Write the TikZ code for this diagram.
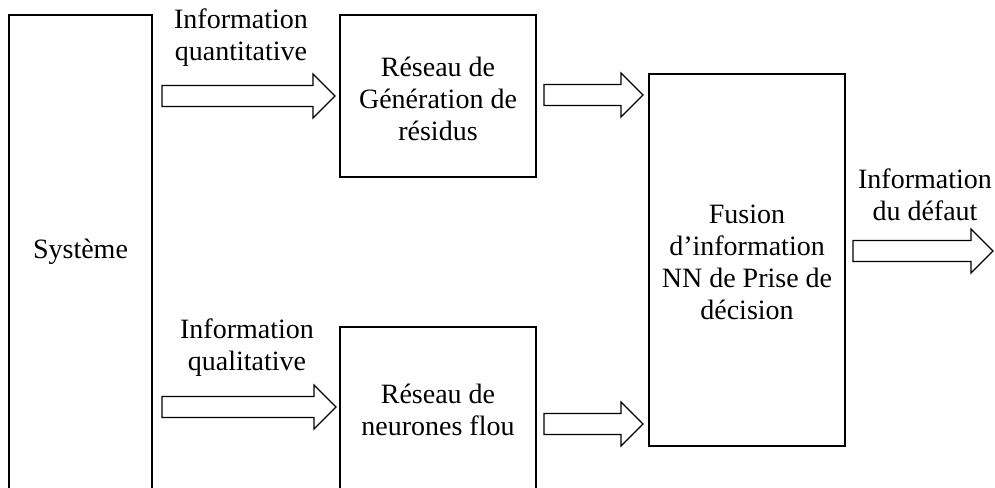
\documentclass[tikz,border=0pt]{standalone}
\usepackage{fontspec}
\setmainfont{Liberation Serif}
\usetikzlibrary{calc}
\tikzset{
  blockbox/.style={draw, line width=1.2pt, inner sep=0pt, align=center},
  lbl/.style={align=center, inner sep=0pt},
  blockarrow/.style={draw, line width=1.1pt, line join=miter},
}
\newcommand{\blockarrow}[2]{%
  \draw[blockarrow] ($(#1)+(0,-10.5)$) -- ($(#2)+(-22,-10.5)$) -- ($(#2)+(-22,-22)$) -- (#2)
    -- ($(#2)+(-22,22)$) -- ($(#2)+(-22,10.5)$) -- ($(#1)+(0,10.5)$) -- cycle;}
\begin{document}
\begin{tikzpicture}[x=1pt,y=-1pt,font=\fontsize{28}{32}\selectfont]
\clip (0,0) rectangle (995,487);
\fill[white] (0,0) rectangle (995,487);
% boxes
\node[blockbox, minimum width=143pt, minimum height=477pt] (sys) at (80.5,253.5) {};
\node[lbl] (systxt) at (80.5,252) {Système};
\node[blockbox, minimum width=196pt, minimum height=162pt] (gen) at (438,96) {};
\node[lbl] (gentxt) at (438,99) {Réseau de\\Génération de\\résidus};
\node[blockbox, minimum width=196pt, minimum height=165pt] (flou) at (438,409.5) {};
\node[lbl] (floutxt) at (438,410) {Réseau de\\neurones flou};
\node[blockbox, minimum width=196pt, minimum height=372pt] (fus) at (747,260) {};
\node[lbl] (fustxt) at (747,262) {Fusion\\d’information\\NN de Prise de\\décision};
% labels
\node[lbl] (lq) at (241,38) {Information\\quantitative};
\node[lbl] (ll) at (247,348) {Information\\qualitative};
\node[lbl] (ld) at (925,195) {Information\\du défaut};
% arrow end points
\coordinate (a1s) at (162,96);  \coordinate (a1e) at (335,96);
\coordinate (a2s) at (544,95);  \coordinate (a2e) at (643,95);
\coordinate (a3s) at (162,407); \coordinate (a3e) at (336,407);
\coordinate (a4s) at (544,424); \coordinate (a4e) at (643,424);
\coordinate (a5s) at (853,251); \coordinate (a5e) at (993,251);
\blockarrow{a1s}{a1e}
\blockarrow{a2s}{a2e}
\blockarrow{a3s}{a3e}
\blockarrow{a4s}{a4e}
\blockarrow{a5s}{a5e}
\end{tikzpicture}
\end{document}
